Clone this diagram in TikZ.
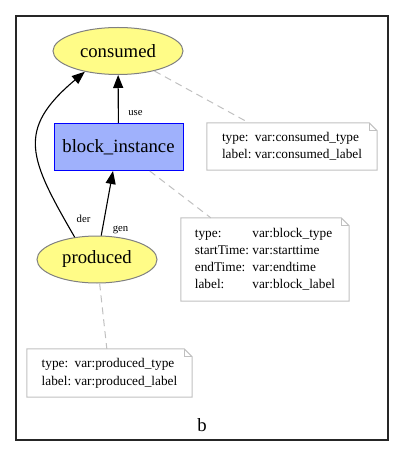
\documentclass[tikz,border=0pt]{standalone}
\usepackage{fontspec}
\setmainfont{Liberation Serif}
\usetikzlibrary{shapes.geometric,arrows.meta}
\definecolor{entyellow}{HTML}{FFFC87}
\definecolor{actblue}{HTML}{9FB1FC}
\definecolor{notegray}{HTML}{C0C0C0}
\newcommand{\foldnote}[1]{%
  \draw[notegray,line width=1pt] (#1.north west) -- ([xshift=-8pt]#1.north east)
    -- ([yshift=-8pt]#1.north east) -- (#1.south east) -- (#1.south west) -- cycle;
  \draw[notegray,line width=1pt] ([xshift=-8pt]#1.north east)
    -- ([xshift=-8pt,yshift=-8pt]#1.north east) -- ([yshift=-8pt]#1.north east);}
\begin{document}
\begin{tikzpicture}[x=1pt,y=-1pt,
	entity/.style={ellipse,draw=gray,line width=1pt,fill=entyellow,minimum height=47pt,inner sep=0pt,font=\fontsize{18.7}{22}\selectfont},
	activity/.style={rectangle,draw=blue,line width=1pt,fill=actblue,inner sep=0pt,font=\fontsize{18.7}{22}\selectfont},
	notebox/.style={rectangle,inner sep=0pt,align=center,font=\fontsize{13.3}{17.3}\selectfont},
	edge/.style={line width=1.1pt,-{Triangle[length=13pt,width=10pt]}},
	annot/.style={notegray,line width=1pt,dash pattern=on 7pt off 5pt},
	edgelabel/.style={inner sep=0pt,font=\fontsize{10.7}{12}\selectfont}]
		\useasboundingbox (0,0) rectangle (404,457);
		\draw[black!85,line width=1.3pt] (16,16) rectangle (388,440);
		% nodes
		\node[entity,minimum width=130pt] (consumed) at (118,51) {consumed};
		\node[activity,minimum width=129pt,minimum height=47pt] (block) at (118.5,147) {block\_instance};
		\node[entity,minimum width=120pt] (produced) at (97,259.5) {produced};
		% notes
		\node[notebox,minimum width=170pt,minimum height=47pt] (consumednote) at (292,146.5)
		{\begin{tabular}{@{}l@{\ }l@{}}type: & var:consumed\_type\\ label: & var:consumed\_label\end{tabular}};
		\node[notebox,minimum width=168pt,minimum height=83pt] (blocknote) at (265,259.5)
		{\begin{tabular}{@{}l@{\ }l@{}}type: & var:block\_type\\ startTime: & var:starttime\\ endTime: & var:endtime\\ label: & var:block\_label\end{tabular}};
		\node[notebox,minimum width=165pt,minimum height=48pt] (producednote) at (109.5,373)
		{\begin{tabular}{@{}l@{\ }l@{}}type: & var:produced\_type\\ label: & var:produced\_label\end{tabular}};
		\foldnote{consumednote}
		\foldnote{blocknote}
		\foldnote{producednote}
		\draw[annot] (consumed) -- (consumednote);
		\draw[annot] (block) -- (blocknote);
		\draw[annot] (produced) -- (producednote);
		% edges
		\draw[edge] (block) -- (consumed);
		\draw[edge] (produced.80) -- (block.south-|113,0);
		\draw[edge] (produced.135) to [out=120,in=220,looseness=1.4] (consumed.212);
		\node[edgelabel] (uselabel) at (135.5,113) {use};
		\node[edgelabel] (genlabel) at (120.5,230) {gen};
		\node[edgelabel] (derlabel) at (83.5,219) {der};
		\node[font=\fontsize{18.7}{22}\selectfont] (graphlabel) at (202,425) {b};
		\end{tikzpicture}
\end{document}
